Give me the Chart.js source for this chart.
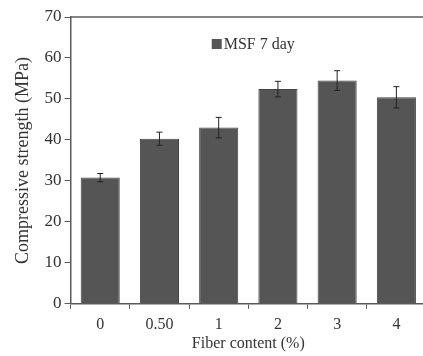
<!DOCTYPE html>
<html>
<head>
<meta charset="utf-8">
<script src="https://cdn.jsdelivr.net/npm/chart.js@4"></script>
<style>
  html, body { margin: 0; padding: 0; background: #fff; overflow: hidden; }
  #wrap { width: 423px; height: 356px; overflow: hidden; }
</style>
</head>
<body>
<div id="wrap"><canvas id="chart" width="430" height="356"></canvas></div>
<script>
// données
const fiberContent = ["0", "0.50", "1", "2", "3", "4"];
const strength7day = [30.8, 40.3, 43.0, 52.4, 54.5, 50.4];
const errorSD = [1.0, 1.6, 2.5, 1.9, 2.4, 2.6];
const yTicks = [0, 10, 20, 30, 40, 50, 60, 70];

const axisColor = "#5a5a5a";
const textColor = "#333";
const serif = "'Liberation Serif', 'Times New Roman', serif";

// barres d'erreur, ligne du haut et légende dans la zone du graphique
const extras = {
  id: "extras",
  afterDatasetsDraw(chart) {
    const ctx = chart.ctx;
    const x = chart.scales.x;
    const y = chart.scales.y;
    ctx.save();
    ctx.strokeStyle = "#222";
    ctx.lineWidth = 1;
    strength7day.forEach((v, i) => {
      const px = x.getPixelForValue(i);
      const top = y.getPixelForValue(v + errorSD[i]);
      const bot = y.getPixelForValue(v - errorSD[i]);
      ctx.beginPath();
      ctx.moveTo(px, top); ctx.lineTo(px, bot);
      ctx.moveTo(px - 3, top); ctx.lineTo(px + 3, top);
      ctx.moveTo(px - 3, bot); ctx.lineTo(px + 3, bot);
      ctx.stroke();
    });
    const a = chart.chartArea;
    ctx.strokeStyle = axisColor;
    ctx.lineWidth = 1.5;
    ctx.beginPath();
    ctx.moveTo(a.left, a.top); ctx.lineTo(a.right, a.top);
    ctx.stroke();

    // légende
    const ds = chart.data.datasets[0];
    ctx.font = "16px " + serif;
    const label = ds.label;
    const w = 10 + 2 + ctx.measureText(label).width;
    const lx = (a.left + a.right) / 2 - w / 2 + 5;
    const ly = a.top + 27;
    ctx.fillStyle = ds.backgroundColor;
    ctx.fillRect(lx, ly - 5, 10, 10);
    ctx.fillStyle = textColor;
    ctx.textBaseline = "middle";
    ctx.fillText(label, lx + 12, ly + 1);
    ctx.restore();
  }
};

new Chart(document.getElementById("chart"), {
  type: "bar",
  data: {
    labels: fiberContent,
    datasets: [{
      label: "MSF 7 day",
      data: strength7day,
      backgroundColor: "#555555",
      borderColor: "#444",
      borderWidth: 1,
      categoryPercentage: 1,
      barPercentage: 0.66
    }]
  },
  options: {
    responsive: false,
    animation: false,
    layout: { padding: { top: 17, right: 4, left: 12, bottom: 4 } },
    plugins: {
      legend: { display: false },
      tooltip: { enabled: false }
    },
    scales: {
      x: {
        grid: { drawOnChartArea: false, drawTicks: true, tickLength: 5, color: axisColor },
        border: { color: axisColor, width: 1.5 },
        ticks: { color: textColor, font: { family: serif, size: 16 }, padding: 6 },
        title: { display: true, text: "Fiber content (%)", color: textColor, font: { family: serif, size: 16, lineHeight: 1 }, padding: { top: -4, bottom: 0 } }
      },
      y: {
        min: 0,
        max: 70,
        afterBuildTicks: (s) => { s.ticks = yTicks.map(v => ({ value: v })); },
        grid: { drawOnChartArea: false, drawTicks: true, tickLength: 6, color: axisColor },
        border: { color: axisColor, width: 1.5 },
        ticks: { color: textColor, font: { family: serif, size: 17 }, padding: 3 },
        title: { display: true, text: "Compressive strength (MPa)", color: textColor, font: { family: serif, size: 18 }, padding: { top: 0, bottom: 8 } }
      }
    }
  },
  plugins: [extras]
});
</script>
</body>
</html>
